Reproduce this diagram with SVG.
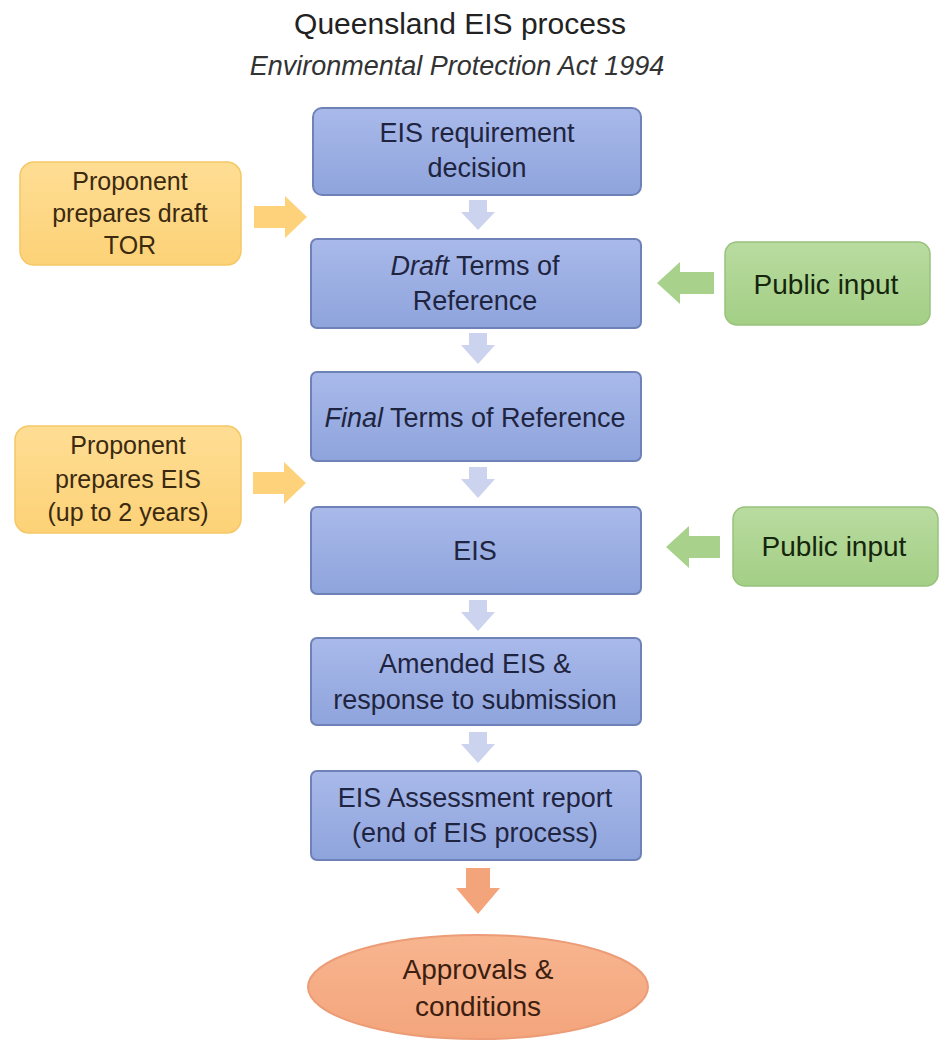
<svg xmlns="http://www.w3.org/2000/svg" width="940" height="1041" viewBox="0 0 940 1041">
<defs>
<linearGradient id="gb" x1="0" y1="0" x2="0" y2="1"><stop offset="0" stop-color="#a9b9ea"/><stop offset="1" stop-color="#8ea4dc"/></linearGradient>
<linearGradient id="go" x1="0" y1="0" x2="0" y2="1"><stop offset="0" stop-color="#fedd94"/><stop offset="1" stop-color="#fdd277"/></linearGradient>
<linearGradient id="gg" x1="0" y1="0" x2="0" y2="1"><stop offset="0" stop-color="#b9dba0"/><stop offset="1" stop-color="#a3cf85"/></linearGradient>
<linearGradient id="ge" x1="0" y1="0" x2="0" y2="1"><stop offset="0" stop-color="#f7b58f"/><stop offset="1" stop-color="#f4a57c"/></linearGradient>
</defs>
<style>
.t{font-family:"Liberation Sans",Arial,sans-serif;font-size:27px;fill:#1f2540;text-anchor:middle}
.to{font-family:"Liberation Sans",Arial,sans-serif;font-size:25px;fill:#3b2a10;text-anchor:middle}
.tg{font-family:"Liberation Sans",Arial,sans-serif;font-size:28px;fill:#15260c;text-anchor:middle}
.blue{fill:url(#gb);stroke:#6f82b8;stroke-width:2}
.orange{fill:url(#go);stroke:#f5c867;stroke-width:1.5}
.green{fill:url(#gg);stroke:#98c27c;stroke-width:1.5}
.da{fill:#ccd3ef}
.oa{fill:#fdd27a}
.ga{fill:#a8d28c}
</style>
<g id="title">
<text x="460" y="34" style="font-family:'Liberation Sans',Arial,sans-serif;font-size:30px;fill:#222;text-anchor:middle">Queensland EIS process</text>
<text x="457" y="75" style="font-family:'Liberation Sans',Arial,sans-serif;font-size:27px;font-style:italic;fill:#333;text-anchor:middle">Environmental Protection Act 1994</text>
</g>
<g id="connectors">
<polygon class="da" points="469,200 487,200 487,212 495,212 478,230 461,212 469,212"/>
<polygon class="da" points="469,333 487,333 487,345 495,345 478,364 461,345 469,345"/>
<polygon class="da" points="469,467 487,467 487,479 495,479 478,498 461,479 469,479"/>
<polygon class="da" points="469,600 487,600 487,612 495,612 478,631 461,612 469,612"/>
<polygon class="da" points="469,732 487,732 487,744 495,744 478,763 461,744 469,744"/>
<polygon fill="#f4a47b" points="466,868 490,868 490,888 500,888 478,914 456,888 466,888"/>
<polygon class="oa" points="254,206 285,206 285,196 307,217 285,238 285,228 254,228"/>
<polygon class="oa" points="253,472 284,472 284,462 306,483 284,504 284,494 253,494"/>
<polygon class="ga" points="714,272 680,272 680,262 657,283 680,304 680,294 714,294"/>
<polygon class="ga" points="720,536 689,536 689,526 666,547 689,568 689,558 720,558"/>
</g>
<g id="n1"><rect class="blue" x="313" y="108" width="328" height="87" rx="9"/><text class="t" x="477" y="142">EIS requirement</text><text class="t" x="477" y="177">decision</text></g>
<g id="n2"><rect class="blue" x="311" y="239" width="330" height="89" rx="6"/><text class="t" x="475" y="275"><tspan font-style="italic">Draft</tspan> Terms of</text><text class="t" x="475" y="310">Reference</text></g>
<g id="n3"><rect class="blue" x="311" y="372" width="330" height="89" rx="6"/><text class="t" x="475" y="427"><tspan font-style="italic">Final</tspan> Terms of Reference</text></g>
<g id="n4"><rect class="blue" x="311" y="507" width="330" height="87" rx="6"/><text class="t" x="475" y="560">EIS</text></g>
<g id="n5"><rect class="blue" x="311" y="638" width="330" height="87" rx="6"/><text class="t" x="475" y="673">Amended EIS &amp;</text><text class="t" x="475" y="709">response to submission</text></g>
<g id="n6"><rect class="blue" x="311" y="771" width="330" height="89" rx="6"/><text class="t" x="475" y="807">EIS Assessment report</text><text class="t" x="475" y="842">(end of EIS process)</text></g>
<g id="n7"><ellipse cx="478" cy="987" rx="170" ry="52" fill="url(#ge)" stroke="#ec9c76" stroke-width="2"/><text x="478" y="979" style="font-family:'Liberation Sans',Arial,sans-serif;font-size:28px;fill:#3d1e10;text-anchor:middle">Approvals &amp;</text><text x="478" y="1016" style="font-family:'Liberation Sans',Arial,sans-serif;font-size:28px;fill:#3d1e10;text-anchor:middle">conditions</text></g>
<g id="o1"><rect class="orange" x="20" y="162" width="221" height="103" rx="14"/><text class="to" x="130" y="190">Proponent</text><text class="to" x="130" y="222">prepares draft</text><text class="to" x="130" y="254">TOR</text></g>
<g id="o2"><rect class="orange" x="15" y="426" width="226" height="107" rx="14"/><text class="to" x="128" y="454">Proponent</text><text class="to" x="128" y="488">prepares EIS</text><text class="to" x="128" y="521">(up to 2 years)</text></g>
<g id="p1"><rect class="green" x="725" y="242" width="205" height="83" rx="12"/><text class="tg" x="826" y="294">Public input</text></g>
<g id="p2"><rect class="green" x="733" y="507" width="205" height="79" rx="12"/><text class="tg" x="834" y="556">Public input</text></g>
</svg>
